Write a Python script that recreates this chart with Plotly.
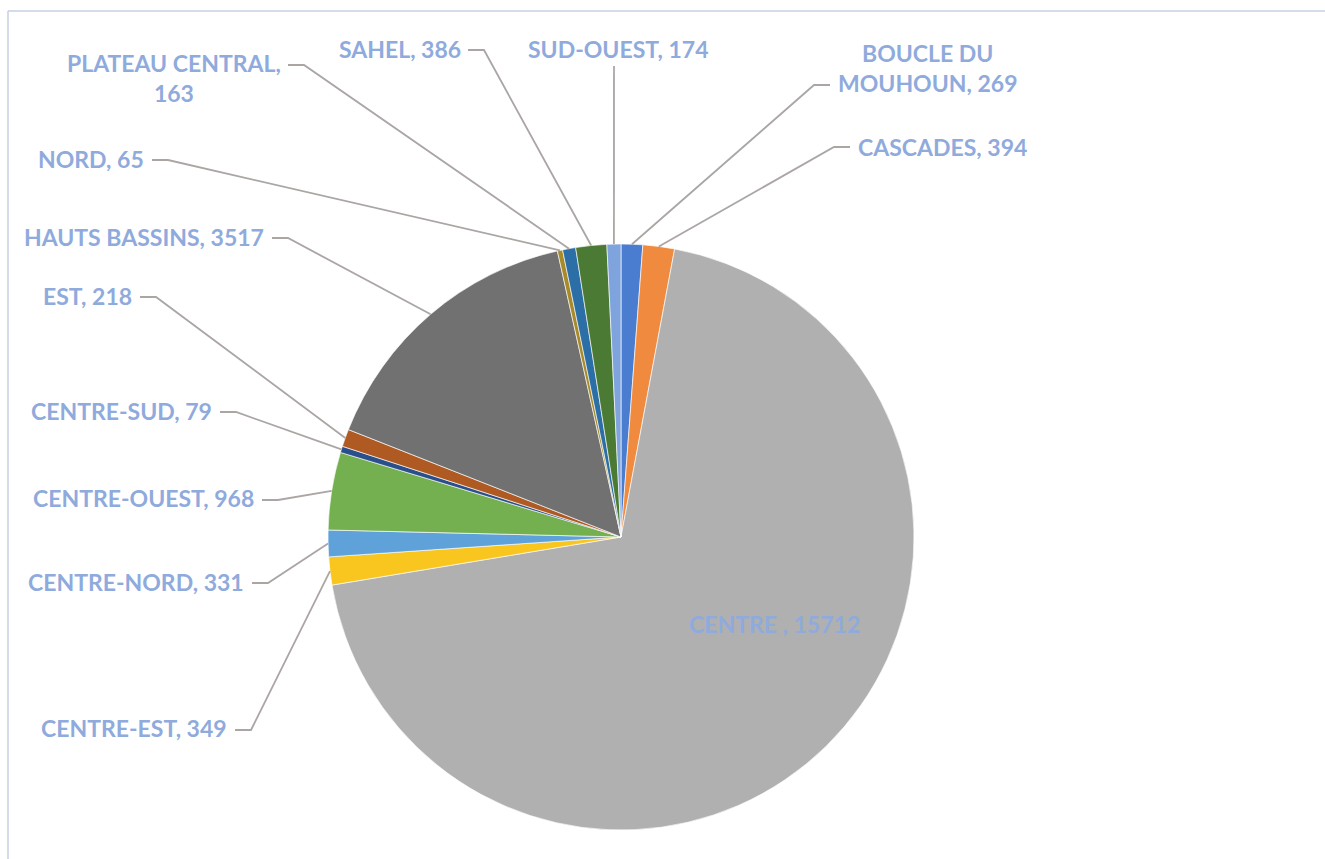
import math
import plotly.graph_objects as go

# Regions and their counts (clockwise from 12 o'clock)
regions = [
    "BOUCLE DU MOUHOUN", "CASCADES", "CENTRE", "CENTRE-EST", "CENTRE-NORD",
    "CENTRE-OUEST", "CENTRE-SUD", "EST", "HAUTS BASSINS", "NORD",
    "PLATEAU CENTRAL", "SAHEL", "SUD-OUEST",
]
counts = [269, 394, 15712, 349, 331, 968, 79, 218, 3517, 65, 163, 386, 174]

slice_colors = [
    "#4A7DCF", "#F08A3E", "#B0B0B0", "#F9C51F", "#5FA2DA", "#74B050",
    "#2A4F8A", "#AE5A22", "#717171", "#A88A28", "#2C6EA6", "#4A7A34", "#7FA3DC",
]

W, H = 1325, 859
CX, CY, R = 621, 537, 293          # pie centre and radius, in pixels
LABEL_COLOR = "#8FAADC"
LEADER_COLOR = "#ABA6A4"
FONT = dict(family="Lato, Carlito, Calibri, sans-serif", size=23, color=LABEL_COLOR)


def px(x):
    return x / W


def py(y):
    return 1 - y / H


# Label placement: (leader start x, leader start y, side, text anchor x, text y, text lines)
label_layout = {
    "BOUCLE DU MOUHOUN": (830, 85, "right", 836, 68, ["BOUCLE DU", "MOUHOUN, {v}"]),
    "CASCADES": (850, 147, "right", 856, 147, ["CASCADES, {v}"]),
    "SUD-OUEST": (614, 66, "top", 618, 49, ["SUD-OUEST, {v}"]),
    "SAHEL": (468, 50, "left", 463, 49, ["SAHEL, {v}"]),
    "PLATEAU CENTRAL": (288, 65, "left", 283, 78, ["PLATEAU CENTRAL,", "{v}"]),
    "NORD": (152, 160, "left", 146, 159, ["NORD, {v}"]),
    "HAUTS BASSINS": (272, 238, "left", 266, 237, ["HAUTS BASSINS, {v}"]),
    "EST": (140, 297, "left", 134, 296, ["EST, {v}"]),
    "CENTRE-SUD": (220, 412, "left", 214, 411, ["CENTRE-SUD, {v}"]),
    "CENTRE-OUEST": (262, 500, "left", 256, 498, ["CENTRE-OUEST, {v}"]),
    "CENTRE-NORD": (252, 583, "left", 246, 582, ["CENTRE-NORD, {v}"]),
    "CENTRE-EST": (235, 730, "left", 229, 728, ["CENTRE-EST, {v}"]),
}
inside_label = ("CENTRE", 774, 624, "CENTRE , {v}")

fig = go.Figure()
fig.add_trace(go.Pie(
    labels=regions,
    values=counts,
    sort=False,
    direction="clockwise",
    rotation=0,
    marker=dict(colors=slice_colors, line=dict(color="rgba(255,255,255,0.8)", width=0.8)),
    textinfo="none",
    hoverinfo="label+value",
    showlegend=False,
    domain=dict(x=[px(CX - R), px(CX + R)], y=[py(CY + R), py(CY - R)]),
))

total = sum(counts)
mid_angle = {}
acc = 0
for name, v in zip(regions, counts):
    mid_angle[name] = (acc + v / 2) / total * 2 * math.pi
    acc += v

shapes = []
annotations = []
value_of = dict(zip(regions, counts))

for name, (sx, sy, side, tx, ty, lines) in label_layout.items():
    a = mid_angle[name]
    ex = CX + R * math.sin(a)
    ey = CY - R * math.cos(a)
    if side == "top":
        path = f"M {px(sx)},{py(sy)} L {px(ex)},{py(ey)}"
    else:
        step = 16 if side == "left" else -16
        path = (f"M {px(sx)},{py(sy)} L {px(sx + step)},{py(sy)} "
                f"L {px(ex)},{py(ey)}")
    shapes.append(dict(type="path", path=path, xref="paper", yref="paper",
                       line=dict(color=LEADER_COLOR, width=1.8)))
    text = "<br>".join(l.format(v=value_of[name]) for l in lines)
    xanchor = {"left": "right", "right": "left", "top": "center"}[side]
    annotations.append(dict(
        x=px(tx), y=py(ty), xref="paper", yref="paper", text=f"<b>{text}</b>",
        showarrow=False, xanchor=xanchor, yanchor="middle", align="center",
        font=FONT,
    ))

name, ix, iy, tmpl = inside_label
annotations.append(dict(
    x=px(ix), y=py(iy), xref="paper", yref="paper",
    text=f"<b>{tmpl.format(v=value_of[name])}</b>",
    showarrow=False, xanchor="center", yanchor="middle", font=FONT,
))

# chart area frame (top and left edges)
shapes.append(dict(type="line", xref="paper", yref="paper",
                   x0=px(8), y0=py(11), x1=1, y1=py(11),
                   line=dict(color="#C6CFE3", width=1.5)))
shapes.append(dict(type="line", xref="paper", yref="paper",
                   x0=px(8), y0=py(11), x1=px(8), y1=0,
                   line=dict(color="#C6CFE3", width=1.5)))

fig.update_layout(
    width=W, height=H,
    margin=dict(l=0, r=0, t=0, b=0),
    paper_bgcolor="white",
    plot_bgcolor="white",
    shapes=shapes,
    annotations=annotations,
)

fig.write_html("out.html")
